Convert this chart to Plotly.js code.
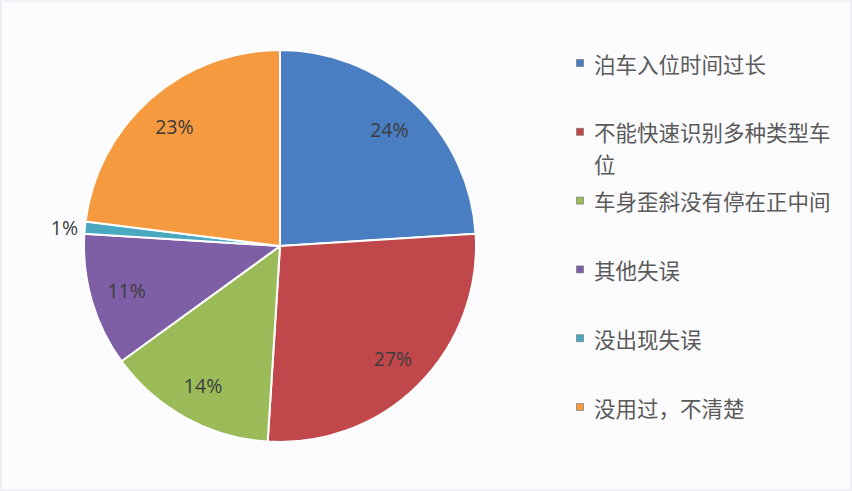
<!DOCTYPE html>
<html>
<head>
<meta charset="utf-8">
<script src="https://cdn.plot.ly/plotly-3.0.1.min.js"></script>
<style>
  html, body { margin: 0; padding: 0; background: #fcfcfe; }
  #chart { width: 852px; height: 491px; }
</style>
</head>
<body>
<div id="chart"></div>
<script>
// ---- data ----
const labels = ["泊车入位时间过长", "不能快速识别多种类型车位", "车身歪斜没有停在正中间", "其他失误", "没出现失误", "没用过，不清楚"];
const values = [24, 27, 14, 11, 1, 23];
const colors = ["#4a7ec2", "#c0474a", "#9bbb59", "#7e5fa6", "#4aa9c0", "#f59a3e"];
const textPositions = ["inside", "inside", "inside", "inside", "outside", "inside"];

// ---- geometry ----
const W = 852, H = 491;
const cx = 280, cy = 246, R = 196;
const domain = { x: [(cx - R) / W, (cx + R) / W], y: [1 - (cy + R) / H, 1 - (cy - R) / H] };
const labelFont = { family: "Open Sans, DejaVu Sans, sans-serif", size: 19.5, color: "#3c3c3c" };

// coloured slices
const pie = {
  type: "pie",
  labels: labels,
  values: values,
  sort: false,
  direction: "clockwise",
  rotation: 0,
  marker: { colors: colors, line: { color: "#ffffff", width: 2 } },
  textinfo: "none",
  automargin: false,
  showlegend: false,
  domain: domain
};

// transparent ring carrying the percentage labels further out, like the source
const labelRing = {
  type: "pie",
  labels: labels,
  values: values,
  sort: false,
  direction: "clockwise",
  rotation: 0,
  hole: 0.63,
  marker: { colors: labels.map(() => "rgba(0,0,0,0)"), line: { width: 0 } },
  texttemplate: "%{value}%",
  textposition: textPositions,
  insidetextorientation: "horizontal",
  textfont: labelFont,
  insidetextfont: labelFont,
  outsidetextfont: labelFont,
  automargin: false,
  showlegend: false,
  domain: domain
};

// ---- custom legend (evenly distributed like the source) ----
const annotations = [];
const shapes = [];
const legY0 = 63, legStep = 68.8, lineH = 32, maxChars = 11;
const legMarkX = 580, legTextX = 592;
labels.forEach((lab, i) => {
  const y = legY0 + i * legStep;
  shapes.push({
    type: "rect", xref: "paper", yref: "paper",
    x0: (legMarkX - 3.5) / W, x1: (legMarkX + 3.5) / W,
    y0: 1 - (y + 3.5) / H, y1: 1 - (y - 3.5) / H,
    fillcolor: colors[i], line: { width: 0.6, color: "#6b6b6b" }
  });
  const chars = Array.from(lab);
  for (let k = 0, line = 0; k < chars.length; k += maxChars, line++) {
    annotations.push({
      xref: "paper", yref: "paper",
      x: legTextX / W, y: 1 - (y + line * lineH) / H,
      xanchor: "left", yanchor: "middle",
      text: chars.slice(k, k + maxChars).join(""),
      showarrow: false,
      font: { family: "Noto Sans CJK SC, sans-serif", size: 21.5, color: "#5a5a5a" }
    });
  }
});

const layout = {
  width: W, height: H,
  margin: { l: 0, r: 0, t: 0, b: 0 },
  paper_bgcolor: "#fcfcfe",
  plot_bgcolor: "#fcfcfe",
  showlegend: false,
  annotations: annotations,
  shapes: shapes.concat([{
    type: "rect", xref: "paper", yref: "paper", x0: 0.001, x1: 0.999, y0: 0.002, y1: 0.998,
    line: { color: "#e4e6ee", width: 1.2 }, fillcolor: "rgba(0,0,0,0)", layer: "below"
  }])
};

Plotly.newPlot("chart", [pie, labelRing], layout, { displayModeBar: false, staticPlot: true });
</script>
</body>
</html>
